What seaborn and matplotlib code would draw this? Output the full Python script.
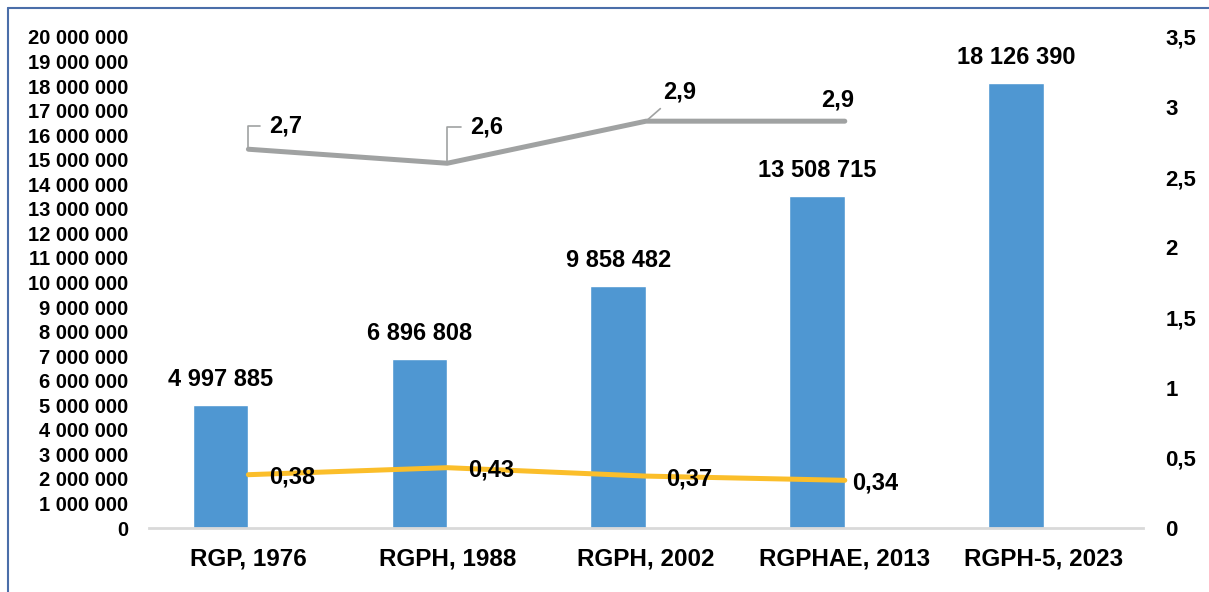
import numpy as np
import pandas as pd
import seaborn as sns
import matplotlib.pyplot as plt
from matplotlib.lines import Line2D
from matplotlib.ticker import FuncFormatter, MultipleLocator

# data
categories = ["RGP, 1976", "RGPH, 1988", "RGPH, 2002", "RGPHAE, 2013", "RGPH-5, 2023"]
population = [4997885, 6896808, 9858482, 13508715, 18126390]
growth_rate = [2.7, 2.6, 2.9, 2.9]
second_rate = [0.38, 0.43, 0.37, 0.34]

bar_color = "#4F97D2"
gray_color = "#A0A2A2"
gold_color = "#FBBE2A"

sns.set_style("white")
plt.rcParams['font.family'] = ['Liberation Sans', 'DejaVu Sans']
plt.rcParams['font.weight'] = 'bold'
plt.rcParams['text.color'] = 'black'
plt.rcParams['xtick.color'] = 'black'
plt.rcParams['ytick.color'] = 'black'

df = pd.DataFrame({"census": categories, "population": population, "series": "pop"})

fig = plt.figure(figsize=(12.09, 5.92), dpi=100)
ax = fig.add_axes([149 / 1209, 64 / 592, 994 / 1209, 491 / 592])

# an empty second hue level keeps the bars on the left half of each slot, as in the original
sns.barplot(data=df, x="census", y="population", hue="series",
            hue_order=["pop", "blank"], palette={"pop": bar_color, "blank": bar_color},
            saturation=1, width=0.56, dodge=True, legend=False, ax=ax)

def fmt_space(v):
    return f"{int(round(v)):,}".replace(",", " ")

ax.bar_label(ax.containers[0], labels=[fmt_space(v) for v in population],
             padding=10, fontsize=17, fontweight='bold')

ax.set_ylim(0, 20_000_000)
ax.yaxis.set_major_locator(MultipleLocator(1_000_000))
ax.yaxis.set_major_formatter(FuncFormatter(lambda v, p: fmt_space(v)))
ax.set_xlim(-0.5, 4.5)
ax.set_xlabel("")
ax.set_ylabel("")
ax.tick_params(axis='y', length=0, pad=15, labelsize=14.5)
ax.tick_params(axis='x', length=0, pad=14, labelsize=17.5)
for lab in ax.get_xticklabels() + ax.get_yticklabels():
    lab.set_fontweight('bold')
for s in ['top', 'right', 'left']:
    ax.spines[s].set_visible(False)
ax.spines['bottom'].set_color("#D9D9D9")
ax.spines['bottom'].set_linewidth(2)

# secondary axis for the rates
ax2 = ax.twinx()
xpos = np.arange(len(growth_rate))
sns.lineplot(x=xpos, y=growth_rate, ax=ax2, color=gray_color, lw=3.6,
             solid_capstyle='round')
sns.lineplot(x=xpos, y=second_rate, ax=ax2, color=gold_color, lw=3.6,
             solid_capstyle='round')
ax2.set_ylim(0, 3.5)
ax2.yaxis.set_major_locator(MultipleLocator(0.5))
ax2.yaxis.set_major_formatter(FuncFormatter(lambda v, p: f"{v:g}".replace(".", ",")))
ax2.tick_params(axis='y', length=0, pad=16, labelsize=16)
for lab in ax2.get_yticklabels():
    lab.set_fontweight('bold')
ax2.set_ylabel("")
for s in ax2.spines.values():
    s.set_visible(False)
ax2.set_xlim(-0.5, 4.5)

# labels for the gray line
gray_offsets = [(15, 16.5), (16.5, 26), (24, 21), (-5, 15)]
gray_leaders = ['angle', 'angle', 'straight', None]
for x, v, off, lead in zip(xpos, growth_rate, gray_offsets, gray_leaders):
    arrow = None
    if lead == 'angle':
        arrow = dict(arrowstyle='-', color=gray_color, lw=1.2, shrinkA=4, shrinkB=0,
                     connectionstyle='angle,angleA=0,angleB=90,rad=0')
    elif lead == 'straight':
        arrow = dict(arrowstyle='-', color=gray_color, lw=1.2, shrinkA=2, shrinkB=0)
    ha = 'left' if lead == 'angle' else 'center'
    ax2.annotate(f"{v:g}".replace(".", ","), xy=(x, v), xytext=off,
                 textcoords='offset points', ha=ha, va='center',
                 fontsize=17, fontweight='bold', arrowprops=arrow)

# labels for the gold line
gold_offsets = [(15, -2), (15, -2), (14.5, -2), (5, -2)]
for x, v, off in zip(xpos, second_rate, gold_offsets):
    ax2.annotate(f"{v:g}".replace(".", ","), xy=(x, v), xytext=off,
                 textcoords='offset points', ha='left', va='center',
                 fontsize=17, fontweight='bold')

# frame around the chart
fig.add_artist(Line2D([8 / 1209, 1], [1 - 8 / 592, 1 - 8 / 592],
                      transform=fig.transFigure, color="#4B6EA9", lw=1.5))
fig.add_artist(Line2D([8 / 1209, 8 / 1209], [0, 1 - 8 / 592],
                      transform=fig.transFigure, color="#4B6EA9", lw=1.5))

fig.savefig("out.png", dpi=100)
